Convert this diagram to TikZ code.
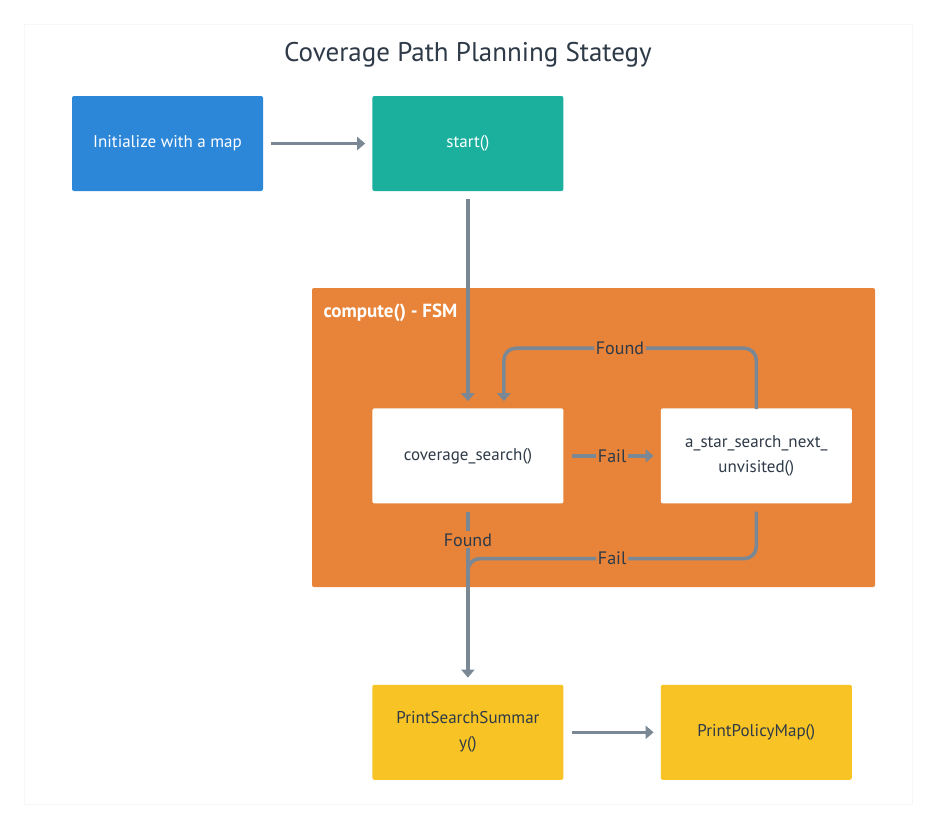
\documentclass[tikz,border=0pt]{standalone}
\usepackage{fontspec}
\setmainfont{PT Sans}
\usepackage{xcolor}
\usepackage{tikz}
\usetikzlibrary{positioning,arrows.meta}
\definecolor{initblue}{HTML}{2D87D9}
\definecolor{startteal}{HTML}{1BAF9E}
\definecolor{fsmorange}{HTML}{E8843A}
\definecolor{printyellow}{HTML}{F7C325}
\definecolor{linegrey}{HTML}{7A8794}
\definecolor{textdark}{HTML}{2E3A47}
\tikzstyle{block} = [rectangle, fill=white, text=textdark, minimum width=191pt, minimum height=95pt, align=center, rounded corners=2pt, font=\fontsize{17}{25}\selectfont]
\tikzstyle{line} = [draw=linegrey, line width=3.6pt, -{Triangle[width=13pt,length=8pt]}, shorten <=8pt, shorten >=7pt]
\tikzstyle{lbl} = [fill=fsmorange, text=textdark, inner sep=2pt, font=\fontsize{18}{20}\selectfont]

\begin{document}
\begin{tikzpicture}[x=1pt, y=1pt]
\useasboundingbox (0,0) rectangle (936,-828);
% Card and frame
\draw[fill=white, draw=black!3] (24,-24) rectangle (912,-804);
\node[text=textdark, font=\fontsize{27}{30}\selectfont] (title) at (468,-55) {Coverage Path Planning Stategy};
\fill[fsmorange, rounded corners=2pt] (312,-288) rectangle (875,-587);
\node[anchor=west, text=white, font=\fontsize{19}{22}\selectfont\bfseries] (fsm) at (320,-313) {compute() - FSM};
% Place nodes
\node [block, fill=initblue, text=white] (init) at (167.5,-143.5) {Initialize with a map};
\node [block, fill=startteal, text=white, right=109pt of init] (start) {start()};
\node [block, below=217pt of start] (cov) {coverage\_search()};
\node [block, right=97pt of cov] (astar) {a\_star\_search\_next\_\\unvisited()};
\node [block, fill=printyellow, below=181pt of cov] (summary) {PrintSearchSummar\\y()};
\node [block, fill=printyellow, right=97pt of summary] (policy) {PrintPolicyMap()};
\coordinate (merge) at ([yshift=-55pt]cov.south);
% Draw edges
\path [line] (init) -- (start);
\path [line] (start) -- (cov);
\path [line] (cov) -- node[lbl] {Fail} (astar);
\path [line, rounded corners=12pt] (astar.north) -- ++(0,-8pt) |- ([xshift=36pt,yshift=60pt]cov.north) node[lbl, pos=0.77] {Found} -- ([xshift=36pt]cov.north);
\path [line] (cov) -- node[lbl, pos=0.2] {Found} (summary);
\draw [linegrey, line width=3.6pt, rounded corners=12pt, shorten <=8pt] (astar.south) |- node[lbl, pos=0.75] {Fail} (merge) -- ++(0,-25pt);
\path [line] (summary) -- (policy);
\end{tikzpicture}
\end{document}
